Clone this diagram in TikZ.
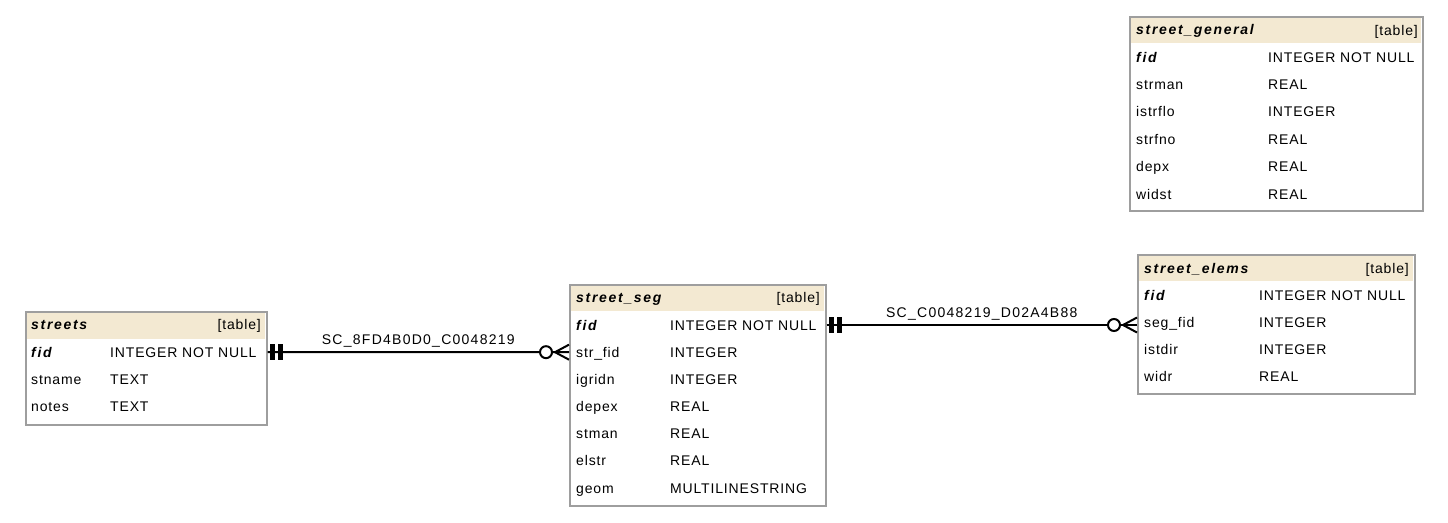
\documentclass[tikz,border=0pt]{standalone}
\usepackage{fontspec}
\setmainfont[LetterSpace=6]{Liberation Sans}
\newfontfamily\keyfont[LetterSpace=12]{Liberation Sans}
\newfontfamily\relfont[LetterSpace=9]{Liberation Sans}
\usetikzlibrary{positioning}

\definecolor{tblgray}{RGB}{158,158,158}
\definecolor{hdrbeige}{RGB}{243,233,210}

\begin{document}
\begin{tikzpicture}[x=1pt,y=-1pt,
  every node/.style={inner sep=0pt, font=\fontsize{14}{16}\selectfont},
  tblbox/.style={draw=tblgray, line width=1.6pt, anchor=north west},
  tname/.style={anchor=west, text height=10pt, text depth=0pt, font=\fontsize{14}{16}\keyfont\bfseries\itshape},
  ttag/.style={anchor=east, text height=10pt, text depth=0pt},
  keycol/.style={tname},
  namecol/.style={anchor=west, text height=10pt, text depth=0pt},
  typecol/.style={namecol},
  rel/.style={line width=2pt},
  rlabel/.style={above=7pt, text height=10pt, text depth=0pt, font=\fontsize{14}{16}\relfont},
  pics/onlyone/.style={code={
    \fill (2,-8) rectangle (7,8);
    \fill (10,-8) rectangle (15,8);}},
  pics/zeromany/.style={code={
    \draw[rel] (0,-7.5) -- (-14,0) -- (0,7.5);
    \draw[rel, fill=white] (-23,0) circle (6pt);}}]
  \useasboundingbox (0,0) rectangle (1448,522);
  \fill[white] (0,0) rectangle (1448,522);

  % Table streets
  \fill[hdrbeige] (26,312) rectangle (265,339);
  \node[tblbox, minimum width=241pt, minimum height=113pt] (streets) at (25,311) {};
  \node[tname] (streets-name) at (31,324) {streets};
  \node[ttag]  (streets-tag) at (261,324) {[table]};
  \node[keycol]  (streets-n1) at (31,352) {fid};
  \node[typecol] (streets-t1) at (110,352) {INTEGER NOT NULL};
  \foreach \a/\b [count=\i from 2] in {stname/TEXT, notes/TEXT}
    {\node[namecol] (streets-n\i) at (31,{352+27*(\i-1)}) {\a};
     \node[typecol] (streets-t\i) at (110,{352+27*(\i-1)}) {\b};}

  % Table street_seg
  \fill[hdrbeige] (570,285) rectangle (824,311);
  \node[tblbox, minimum width=256pt, minimum height=221pt] (seg) at (569,284) {};
  \node[tname] (seg-name) at (576,297) {street\_seg};
  \node[ttag]  (seg-tag) at (820,297) {[table]};
  \node[keycol]  (seg-n1) at (576,325) {fid};
  \node[typecol] (seg-t1) at (670,325) {INTEGER NOT NULL};
  \foreach \a/\b [count=\i from 2] in {str\_fid/INTEGER, igridn/INTEGER, depex/REAL,
      stman/REAL, elstr/REAL, geom/MULTILINESTRING}
    {\node[namecol] (seg-n\i) at (576,{325+27.17*(\i-1)}) {\a};
     \node[typecol] (seg-t\i) at (670,{325+27.17*(\i-1)}) {\b};}

  % Table street_elems
  \fill[hdrbeige] (1138,255) rectangle (1413,281);
  \node[tblbox, minimum width=277pt, minimum height=139pt] (elems) at (1137,254) {};
  \node[tname] (elems-name) at (1144,268) {street\_elems};
  \node[ttag]  (elems-tag) at (1409,268) {[table]};
  \node[keycol]  (elems-n1) at (1144,295) {fid};
  \node[typecol] (elems-t1) at (1259,295) {INTEGER NOT NULL};
  \foreach \a/\b [count=\i from 2] in {seg\_fid/INTEGER, istdir/INTEGER, widr/REAL}
    {\node[namecol] (elems-n\i) at (1144,{295+27.3*(\i-1)}) {\a};
     \node[typecol] (elems-t\i) at (1259,{295+27.3*(\i-1)}) {\b};}

  % Table street_general
  \fill[hdrbeige] (1130,17) rectangle (1421,43);
  \node[tblbox, minimum width=293pt, minimum height=194pt] (general) at (1129,16) {};
  \node[tname] (general-name) at (1136,29) {street\_general};
  \node[ttag]  (general-tag) at (1418,30) {[table]};
  \node[keycol]  (general-n1) at (1136,57) {fid};
  \node[typecol] (general-t1) at (1268,57) {INTEGER NOT NULL};
  \foreach \a/\b [count=\i from 2] in {strman/REAL, istrflo/INTEGER, strfno/REAL,
      depx/REAL, widst/REAL}
    {\node[namecol] (general-n\i) at (1136,{57+27.4*(\i-1)}) {\a};
     \node[typecol] (general-t\i) at (1268,{57+27.4*(\i-1)}) {\b};}

  % Relations: one (bars) to zero-or-many (circle + crow's foot)
  \draw[rel] (streets.east |- streets-n1) -- node[rlabel] {SC\_8FD4B0D0\_C0048219} (seg.west |- seg-n2);
  \pic at (streets.east |- streets-n1) {onlyone};
  \pic at (seg.west |- seg-n2) {zeromany};

  \draw[rel] (seg.east |- seg-n1) -- node[rlabel] {SC\_C0048219\_D02A4B88} (elems.west |- seg-n1);
  \pic at (seg.east |- seg-n1) {onlyone};
  \pic at (elems.west |- seg-n1) {zeromany};
\end{tikzpicture}
\end{document}
